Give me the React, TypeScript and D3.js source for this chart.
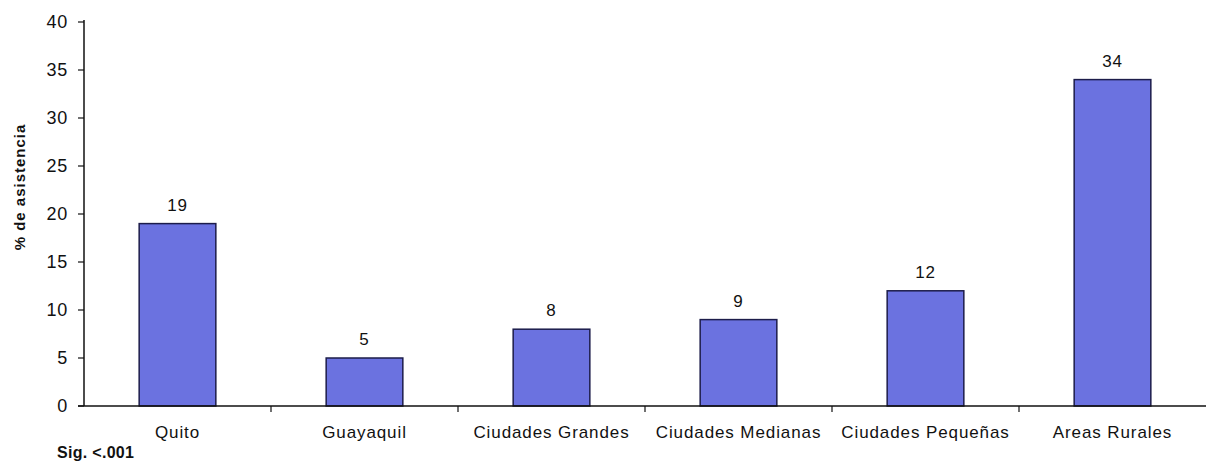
import React from "react";
import * as d3 from "d3";

const categories = ["Quito", "Guayaquil", "Ciudades Grandes", "Ciudades Medianas", "Ciudades Pequeñas", "Areas Rurales"];
const values = [19, 5, 8, 9, 12, 34];
const yTicks = [0, 5, 10, 15, 20, 25, 30, 35, 40];

export default function App() {
  const W = 1209, H = 463;
  const left = 84, right = 1206, top = 22, bottom = 406;
  const x = d3.scaleBand<string>().domain(categories).range([left, right]).paddingInner(0.59).paddingOuter(0.295);
  const xb = d3.scaleBand<string>().domain(categories).range([left, right]);
  const y = d3.scaleLinear().domain([0, 40]).range([bottom, top]);
  const font = "Liberation Sans, Arial, sans-serif";
  return (
    <svg width={W} height={H} style={{ position: "absolute", left: 0, top: 0, background: "#fff" }} fontFamily={font}>
      {/* y axis */}
      <line x1={left} x2={left} y1={top - 2} y2={bottom} stroke="#111" strokeWidth={1.5} />
      {yTicks.map((t) => (
        <g key={t}>
          <line x1={left - 6} x2={left} y1={y(t)} y2={y(t)} stroke="#111" strokeWidth={1.2} />
          <text x={left - 16} y={y(t)} dy="0.36em" textAnchor="end" fontSize={18} letterSpacing={0.8} fill="#111">{t}</text>
        </g>
      ))}
      <text transform={`translate(25, 187) rotate(-90)`} textAnchor="middle" fontSize={15} fontWeight="bold" letterSpacing={1} fill="#111">% de asistencia</text>
      {/* bars */}
      {categories.map((c, i) => (
        <g key={c}>
          <rect x={x(c)!} y={y(values[i])} width={x.bandwidth()} height={y(0) - y(values[i])} fill="#6b72e0" stroke="#1c1c4a" strokeWidth={1.5} />
          <text x={x(c)! + x.bandwidth() / 2} y={y(values[i]) - 13} textAnchor="middle" fontSize={17} letterSpacing={0.8} fill="#111">{values[i]}</text>
          <text x={xb(c)! + xb.bandwidth() / 2} y={438} textAnchor="middle" fontSize={17} letterSpacing={0.9} fill="#111">{c}</text>
        </g>
      ))}
      {/* x axis */}
      <line x1={left - 6} x2={right} y1={bottom} y2={bottom} stroke="#111" strokeWidth={1.5} />
      {categories.slice(1).map((c) => (
        <line key={c} x1={xb(c)!} x2={xb(c)!} y1={bottom} y2={bottom + 6} stroke="#111" strokeWidth={1.2} />
      ))}
      <text x={57} y={458} fontSize={16} fontWeight="bold" letterSpacing={0.3} fill="#111">Sig. &lt;.001</text>
    </svg>
  );
}
